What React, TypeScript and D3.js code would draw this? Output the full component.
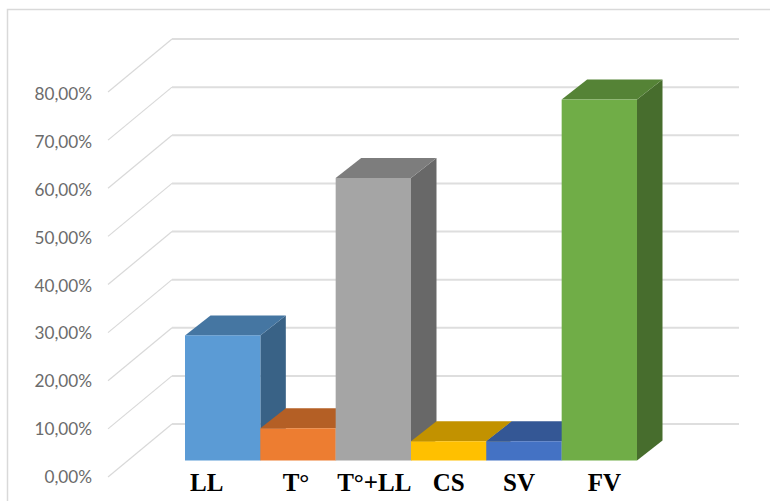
import * as d3 from 'd3';

const categories = ['LL', 'T°', 'T°+LL', 'CS', 'SV', 'FV'];
const values = [26, 6.7, 58.7, 4, 4, 75];
const barColors = ['#5B9BD5', '#ED7D31', '#A5A5A5', '#FFC000', '#4472C4', '#70AD47'];
const gridTicks = [0, 10, 20, 30, 40, 50, 60, 70, 80];
// labels in the original were nudged by hand, not centred on the bars
const labelOffsets = [-16, -2, 1, 0, -5, 5];

const width = 770;
const height = 501;

export default function App() {
  const x = d3.scaleBand<string>().domain(categories).range([185, 637]);
  // front face of the bars
  const y = d3.scaleLinear().domain([0, 80]).range([460.5, 75.5]);
  // back wall of the chart
  const wallY = d3.scaleLinear().domain([0, 80]).range([424, 39]);
  // tick label baselines
  const labelY = d3.scaleLinear().domain([0, 80]).range([483, 100]);

  const depthX = 25.5;
  const depthY = 20;
  const fmt = (v: number) => v.toFixed(2).replace('.', ',') + '%';
  const shade = (c: string, k: number) => {
    const r = d3.rgb(c);
    return d3.rgb(r.r * k, r.g * k, r.b * k).formatHex();
  };

  return (
    <svg
      width={width}
      height={height}
      viewBox={`0 0 ${width} ${height}`}
      style={{ position: 'absolute', left: 0, top: 0, background: '#fff' }}
    >
      <path d="M7.5,501V9.5H770" fill="none" stroke="#d9d9d9" strokeWidth={1.5} />

      {gridTicks.map((t) => (
        <g key={t}>
          <path
            d={`M108,${wallY(t) + 53}L172,${wallY(t)}`}
            fill="none"
            stroke="#d9d9d9"
            strokeWidth={1.2}
          />
          <path
            d={`M172,${wallY(t)}H739`}
            fill="none"
            stroke="#dedede"
            strokeWidth={2}
          />
          <text
            x={92}
            y={labelY(t)}
            textAnchor="end"
            fontFamily="Lato, sans-serif"
            fontSize={17.2}
            fill="#6b6b6b"
          >
            {fmt(t)}
          </text>
        </g>
      ))}

      {categories.map((c, i) => {
        const x0 = x(c) as number;
        const x1 = x0 + x.bandwidth();
        const top = y(values[i]);
        const base = y(0);
        return (
          <g key={c}>
            <path
              d={`M${x1},${top}L${x1 + depthX},${top - depthY}V${base - depthY}L${x1},${base}Z`}
              fill={shade(barColors[i], 0.63)}
            />
            <path
              d={`M${x0},${top}L${x0 + depthX},${top - depthY}H${x1 + depthX}L${x1},${top}Z`}
              fill={shade(barColors[i], 0.76)}
            />
            <rect x={x0} y={top} width={x.bandwidth()} height={base - top} fill={barColors[i]} />
          </g>
        );
      })}

      {categories.map((c, i) => (
        <text
          key={c}
          x={(x(c) as number) + x.bandwidth() / 2 + labelOffsets[i]}
          y={491}
          textAnchor="middle"
          fontFamily="'Liberation Serif', serif"
          fontWeight="bold"
          fontSize={25}
          fill="#000"
        >
          {c}
        </text>
      ))}
    </svg>
  );
}
